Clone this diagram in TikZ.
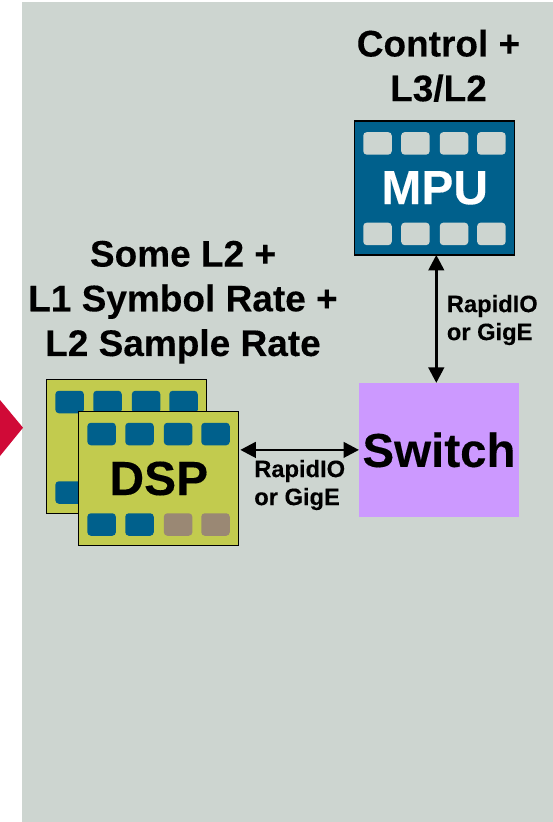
\documentclass[tikz,border=0pt]{standalone}
\usepackage{fontspec}
\setmainfont[BoldFeatures={FakeBold=0.2}]{Liberation Sans}
\usepackage{xcolor}
\usetikzlibrary{positioning, arrows.meta, calc}
\definecolor{cPanel}{RGB}{205,213,208}
\definecolor{cBlue}{RGB}{0,96,140}
\definecolor{cOlive}{RGB}{194,203,78}
\definecolor{cTan}{RGB}{154,136,116}
\definecolor{cSwitch}{RGB}{204,153,255}
\definecolor{cRed}{RGB}{208,10,55}

\begin{document}
\begin{tikzpicture}[x=1pt, y=-1pt, thick,
                    chipbox/.style={draw=black, line width=1.3pt, outer sep=0pt, inner sep=0pt, minimum width=160pt, minimum height=134pt},
                    padcell/.style={rounded corners=3.5pt, outer sep=0pt, inner sep=0pt, minimum width=28.5pt, minimum height=22.5pt},
                    heading/.style={align=center, font=\fontsize{37}{44.7}\selectfont\bfseries},
                    chipname/.style={font=\fontsize{48}{50}\selectfont\bfseries},
                    linklabel/.style={align=left, font=\fontsize{23.7}{28}\selectfont\bfseries},
                    link/.style={line width=2.8pt, {Triangle[length=15.5pt, width=15.5pt]}-{Triangle[length=15.5pt, width=15.5pt]}}]

    \useasboundingbox (0,0) rectangle (553,822);

    % Background
    \fill[cPanel] (22,2) rectangle (553,822);
    \fill[cRed] (0,400) -- (23,427.7) -- (0,456) -- cycle;

    % Chips
    \node[chipbox, fill=cBlue, text=white, chipname] (mpu) at (434.7,187.9) {MPU};
    \node[chipbox, fill=cOlive] (dspback) at (126.8,446.5) {};
    \foreach \i/\px in {1/22.8, 2/60.7, 3/99.3, 4/136.7} {
        \node[padcell, fill=cPanel] (mpuT\i) at ([shift={(\px,22.5)}]mpu.north west) {};
        \node[padcell, fill=cPanel] (mpuB\i) at ([shift={(\px,113)}]mpu.north west) {};
        \node[padcell, fill=cBlue] (backT\i) at ([shift={(\px,22.5)}]dspback.north west) {};
        \node[padcell, fill=cBlue] (backB\i) at ([shift={(\px,113)}]dspback.north west) {};
    }
    \node[chipbox, fill=cOlive, chipname] (dspfront) at (158.8,478.5) {DSP};
    \foreach \i/\px/\padcol in {1/22.8/cBlue, 2/60.7/cBlue, 3/99.3/cTan, 4/136.7/cTan} {
        \node[padcell, fill=cBlue] (frontT\i) at ([shift={(\px,22.5)}]dspfront.north west) {};
        \node[padcell, fill=\padcol] (frontB\i) at ([shift={(\px,113)}]dspfront.north west) {};
    }
    \node[fill=cSwitch, outer sep=0pt, inner sep=0pt, minimum width=160pt, minimum height=134pt, font=\fontsize{47.5}{50}\selectfont\bfseries] (switch) at (439,449.9) {Switch};

    % Headings
    \node[heading] (ctrltext) at (438.5,65.8) {Control +\\L3/L2};
    \node[heading] (dsptext) at (183,302.2) {Some L2 +\\L1 Symbol Rate +\\L2 Sample Rate};

    % Links
    \draw[link] ([xshift=1.6pt]mpu.south) -- ([xshift=-2.7pt]switch.north);
    \draw[link, shorten <=1.5pt] (dspfront.east |- switch.west) -- (switch.west);
    \node[linklabel] (linkup) at (492.3,320) {RapidIO\\or GigE};
    \node[linklabel] (linkleft) at (299.7,485) {RapidIO\\or GigE};

\end{tikzpicture}
\end{document}
